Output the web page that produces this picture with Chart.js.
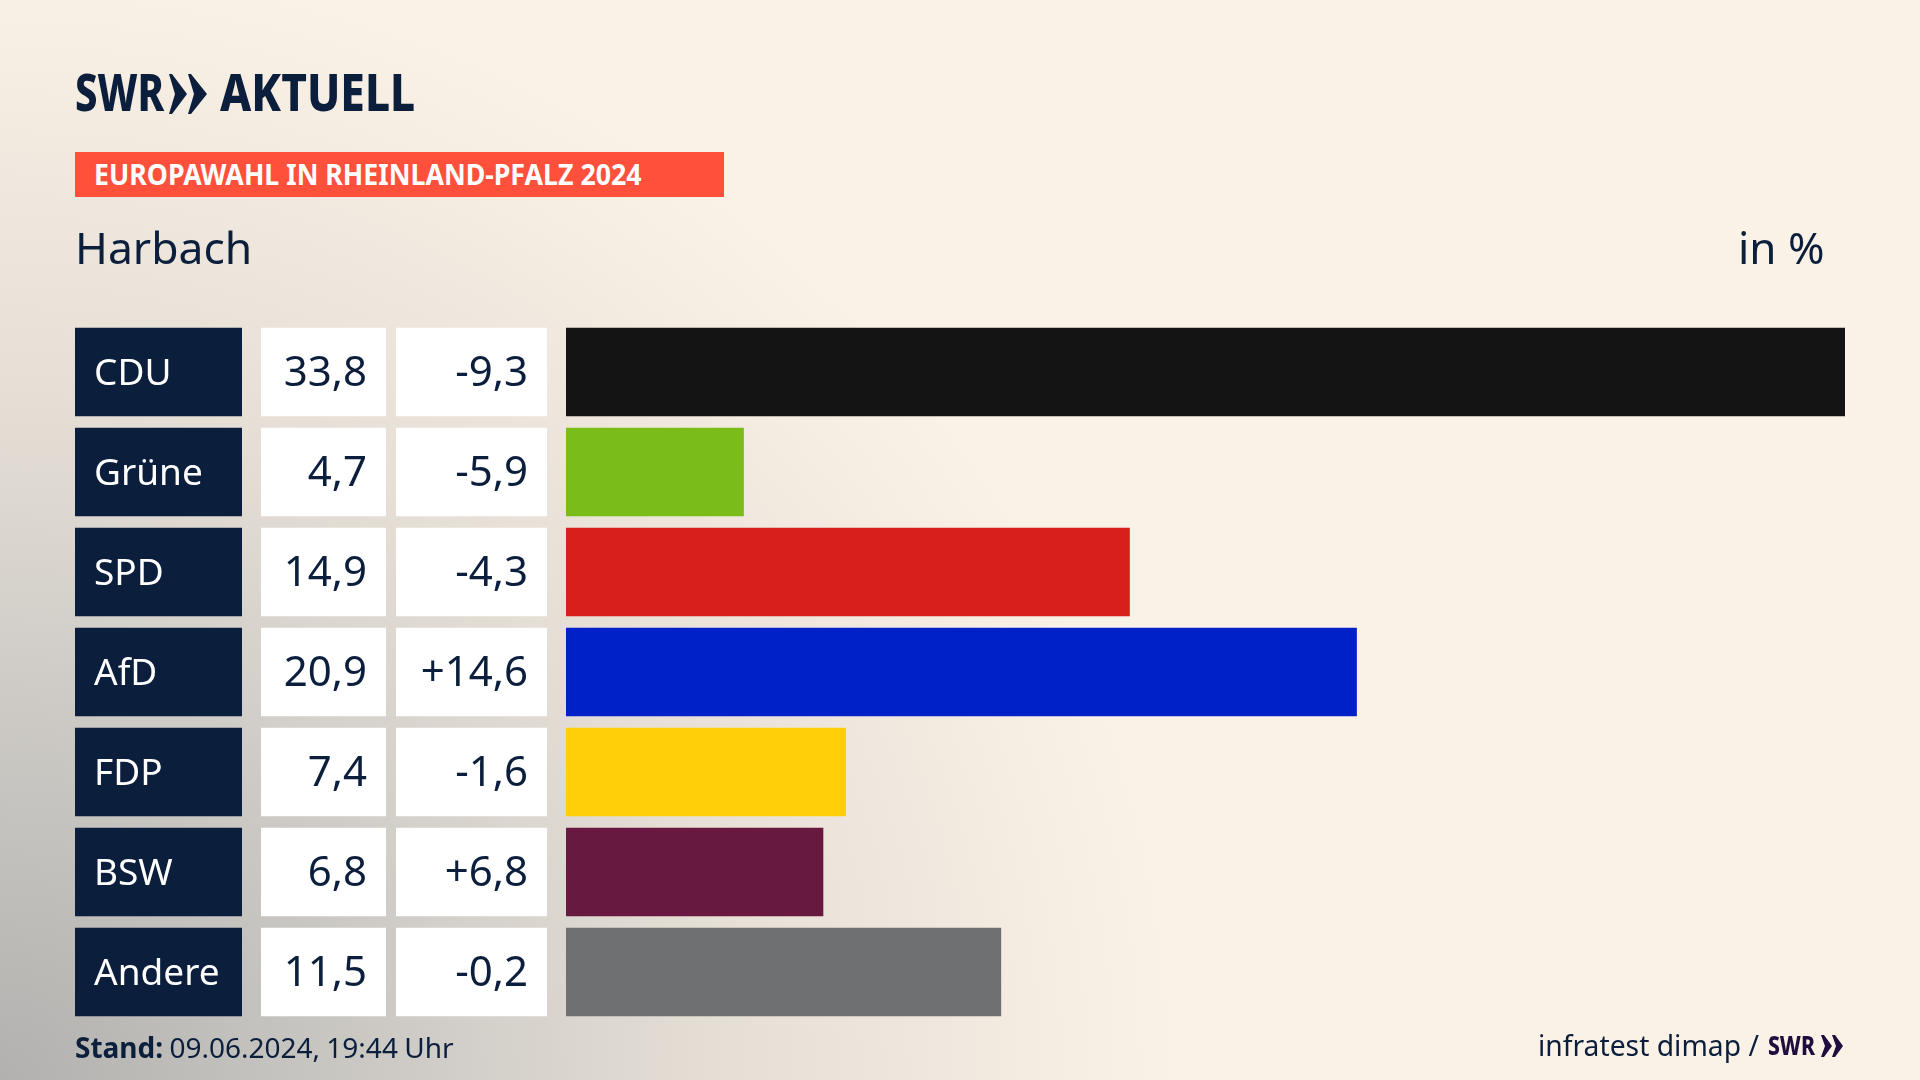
<!DOCTYPE html>
<html lang="de">
<head>
<meta charset="utf-8">
<title>Europawahl Harbach</title>
<script src="https://cdn.jsdelivr.net/npm/chart.js@4/dist/chart.umd.min.js"></script>
<style>
html, body { margin: 0; padding: 0; width: 1920px; height: 1080px; overflow: hidden; }
body {
    position: relative;
    font-family: "Noto Sans", sans-serif;
    color: #0b1f3d;
    background:
        radial-gradient(ellipse 1180px 1120px at 0 1080px, #b2b1af 0%, #cfccc7 36%, #e6dfd6 62%, rgba(251,242,231,0) 100%),
        #fbf2e7;
}
canvas { position: absolute; left: 0; top: 0; }
.txt { position: absolute; white-space: nowrap; line-height: 1; transform-origin: left top; }
.logo { font-weight: 800; font-size: 52px; top: 65px; }
#swr { left: 75px; transform: scaleX(.77); }
#aktuell { left: 220px; transform: scaleX(.85); }
#chev { position: absolute; left: 169px; top: 74px; }
#banner { position: absolute; left: 75px; top: 152px; width: 649px; height: 45px; background: #ff503c; }
#bannertxt { left: 94px; top: 160px; color: #fff; font-weight: 700; font-size: 28px; transform: scaleX(.955); }
#place { left: 75px; top: 225px; font-size: 44px; transform: scaleX(1.01); }
#unit { left: 1738px; top: 225px; font-size: 44px; transform: scaleX(1.0); }
#stand { left: 75px; top: 1033px; font-size: 28px; word-spacing: -1px; }
#source { left: 1538px; top: 1030px; font-size: 29px; transform: scaleX(.975); }
#swr2 { left: 1768px; top: 1031px; font-size: 27px; font-weight: 800; color: #1e0e3e; transform: scaleX(.78); }
#chev2 { position: absolute; left: 1821px; top: 1035px; }
</style>
</head>
<body>
<canvas id="chart" width="1920" height="1080"></canvas>
<div class="txt logo" id="swr">SWR</div>
<svg id="chev" width="40" height="40" viewBox="0 0 40 40"><path fill="#0b1f3d" d="M0 0 L3 0 L18 20 L3 40 L0 40 L6 20 Z M19 0 L22 0 L38 20 L22 40 L19 40 L25 20 Z"/></svg>
<div class="txt logo" id="aktuell">AKTUELL</div>
<div id="banner"></div>
<div class="txt" id="bannertxt">EUROPAWAHL IN RHEINLAND-PFALZ 2024</div>
<div class="txt" id="place">Harbach</div>
<div class="txt" id="unit">in %</div>
<div class="txt" id="stand"><b>Stand:</b> 09.06.2024, 19:44 Uhr</div>
<div class="txt" id="source">infratest dimap /</div>
<div class="txt" id="swr2">SWR</div>
<svg id="chev2" width="24" height="22" viewBox="0 0 24 22"><path fill="#1e0e3e" d="M0 0 L3 0 L11 11 L3 22 L0 22 L4 11 Z M11 0 L14 0 L22 11 L14 22 L11 22 L15 11 Z"/></svg>
<script>
const parties = ['CDU', 'Grüne', 'SPD', 'AfD', 'FDP', 'BSW', 'Andere'];
const shares = [33.8, 4.7, 14.9, 20.9, 7.4, 6.8, 11.5];
const changes = ['-9,3', '-5,9', '-4,3', '+14,6', '-1,6', '+6,8', '-0,2'];
const barColors = ['#141414', '#7abd1a', '#d81f1c', '#0021c8', '#ffcf0a', '#67193f', '#6f7072'];

const NAVY = '#0b1f3d';
const CELL_FONT = '42px "Noto Sans"';

function fmt(v) {
    return v.toFixed(1).replace('.', ',');
}

// party box plus the two white number cells left of each bar
const cellsPlugin = {
    id: 'cells',
    beforeDatasetsDraw(chart) {
        const ctx = chart.ctx;
        const bars = chart.getDatasetMeta(0).data;
        ctx.save();
        bars.forEach((bar, i) => {
            const top = bar.y - bar.height / 2;
            ctx.fillStyle = NAVY;
            ctx.fillRect(75, top, 167, bar.height);
            ctx.fillStyle = '#fff';
            ctx.fillRect(261, top, 125, bar.height);
            ctx.fillRect(396, top, 151, bar.height);
        });
        ctx.restore();
    },
    afterDatasetsDraw(chart) {
        const ctx = chart.ctx;
        const bars = chart.getDatasetMeta(0).data;
        ctx.save();
        ctx.font = CELL_FONT;
        ctx.fillStyle = NAVY;
        ctx.textAlign = 'right';
        ctx.textBaseline = 'middle';
        bars.forEach((bar, i) => {
            ctx.fillText(fmt(shares[i]), 367, bar.y + 2);
            ctx.fillText(changes[i], 528, bar.y + 2);
        });
        ctx.restore();
    }
};

new Chart(document.getElementById('chart'), {
    type: 'bar',
    data: {
        labels: parties,
        datasets: [{
            data: shares,
            backgroundColor: barColors,
            barPercentage: 0.885,
            categoryPercentage: 1
        }]
    },
    options: {
        indexAxis: 'y',
        responsive: false,
        animation: false,
        layout: { padding: { left: 94, right: 75, top: 322, bottom: 58 } },
        plugins: { legend: { display: false }, tooltip: { enabled: false } },
        scales: {
            x: { display: false, min: 0, max: 33.8 },
            y: {
                afterFit(scale) { scale.width = 472; },
                grid: { display: false },
                border: { display: false },
                ticks: {
                    z: 1,
                    labelOffset: 2,
                    color: '#ffffff',
                    crossAlign: 'far',
                    autoSkip: false,
                    font: { family: '"Noto Sans"', size: 37 }
                }
            }
        }
    },
    plugins: [cellsPlugin]
});
</script>
</body>
</html>
